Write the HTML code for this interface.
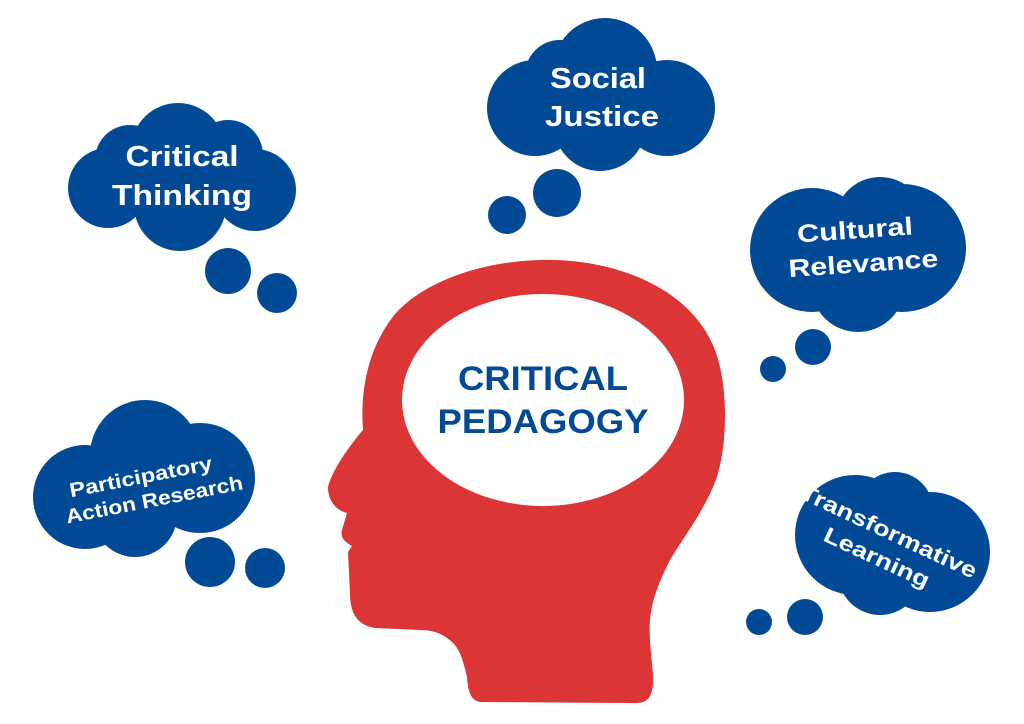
<!DOCTYPE html>
<html><head><meta charset="utf-8"><style>html,body{margin:0;padding:0;background:#fff}svg{display:block}</style></head>
<body>
<svg width="1024" height="724" viewBox="0 0 1024 724" xmlns="http://www.w3.org/2000/svg" font-family="Liberation Sans, sans-serif">
<g fill="#034a96">
<circle cx="178" cy="150" r="47"/><circle cx="108" cy="188" r="40"/><circle cx="255" cy="190" r="41"/>
<circle cx="180" cy="205" r="46"/><circle cx="228" cy="155" r="35"/><circle cx="130" cy="160" r="35"/>
<circle cx="228" cy="271" r="23"/><circle cx="277" cy="293" r="20"/>
<circle cx="605" cy="70" r="52"/><circle cx="535" cy="108" r="48"/><circle cx="667" cy="108" r="48"/>
<circle cx="600" cy="125" r="46"/><circle cx="560" cy="75" r="35"/>
<circle cx="557" cy="193" r="24"/><circle cx="507" cy="215" r="19"/>
<circle cx="812" cy="250" r="62"/><circle cx="902" cy="248" r="64"/><circle cx="858" cy="285" r="47"/><circle cx="880" cy="222" r="45"/>
<circle cx="813" cy="347" r="18"/><circle cx="773" cy="369" r="13"/>
<circle cx="85" cy="497" r="52"/><circle cx="145" cy="455" r="55"/><circle cx="200" cy="478" r="55"/><circle cx="135" cy="515" r="42"/>
<circle cx="210" cy="562" r="25"/><circle cx="265" cy="568" r="20"/>
<circle cx="855" cy="535" r="60"/><circle cx="930" cy="552" r="60"/><circle cx="880" cy="573" r="42"/><circle cx="895" cy="510" r="38"/>
<circle cx="805" cy="617" r="18"/><circle cx="759" cy="622" r="13"/>
</g>
<path fill="#dc3535" d="M540,260 C610,258 690,285 715,350 C728,385 728,440 717,477 C705,510 685,535 670,560 C655,590 648,610 650,640 C651,660 655,680 652,690 C650,700 645,704 630,703 L480,702 C470,700 468,690 467,677 C463,660 460,650 453,643 C443,633 432,630 420,630 L375,628 C355,625 350,610 350,593 L348,552 L352,546 C345,542 340,538 342,530 L347,513 C335,510 328,500 328,487 C332,470 350,445 363,430 C360,390 368,350 392,318 C415,288 470,262 540,260 Z"/>
<ellipse cx="543" cy="400" rx="141" ry="106" fill="#fff"/>
<g fill="#034a96" font-weight="bold" font-size="34" text-anchor="middle">
<text x="543" y="390" textLength="170" lengthAdjust="spacingAndGlyphs">CRITICAL</text>
<text x="543" y="433" textLength="211" lengthAdjust="spacingAndGlyphs">PEDAGOGY</text>
</g>
<g fill="#fff" font-weight="bold" text-anchor="middle">
<text x="182" y="166" font-size="29" textLength="113" lengthAdjust="spacingAndGlyphs">Critical</text>
<text x="182" y="205" font-size="29" textLength="140" lengthAdjust="spacingAndGlyphs">Thinking</text>
<text x="598" y="88" font-size="29" textLength="96" lengthAdjust="spacingAndGlyphs">Social</text>
<text x="602" y="126" font-size="29" textLength="114" lengthAdjust="spacingAndGlyphs">Justice</text>
<g transform="rotate(-4 862 245)">
<text x="856" y="238" font-size="25" textLength="116" lengthAdjust="spacingAndGlyphs">Cultural</text>
<text x="862" y="272" font-size="25" textLength="150" lengthAdjust="spacingAndGlyphs">Relevance</text>
</g>
<g transform="rotate(-11 150 488)">
<text x="143" y="482" font-size="20" textLength="145" lengthAdjust="spacingAndGlyphs">Participatory</text>
<text x="152" y="507" font-size="20" textLength="180" lengthAdjust="spacingAndGlyphs">Action Research</text>
</g>
<text transform="rotate(25 889 531)" x="889" y="539" font-size="22" textLength="192" lengthAdjust="spacingAndGlyphs">Transformative</text>
<text transform="rotate(25 877 557)" x="877" y="565" font-size="22" textLength="114" lengthAdjust="spacingAndGlyphs">Learning</text>
</g>
</svg>
</body></html>
